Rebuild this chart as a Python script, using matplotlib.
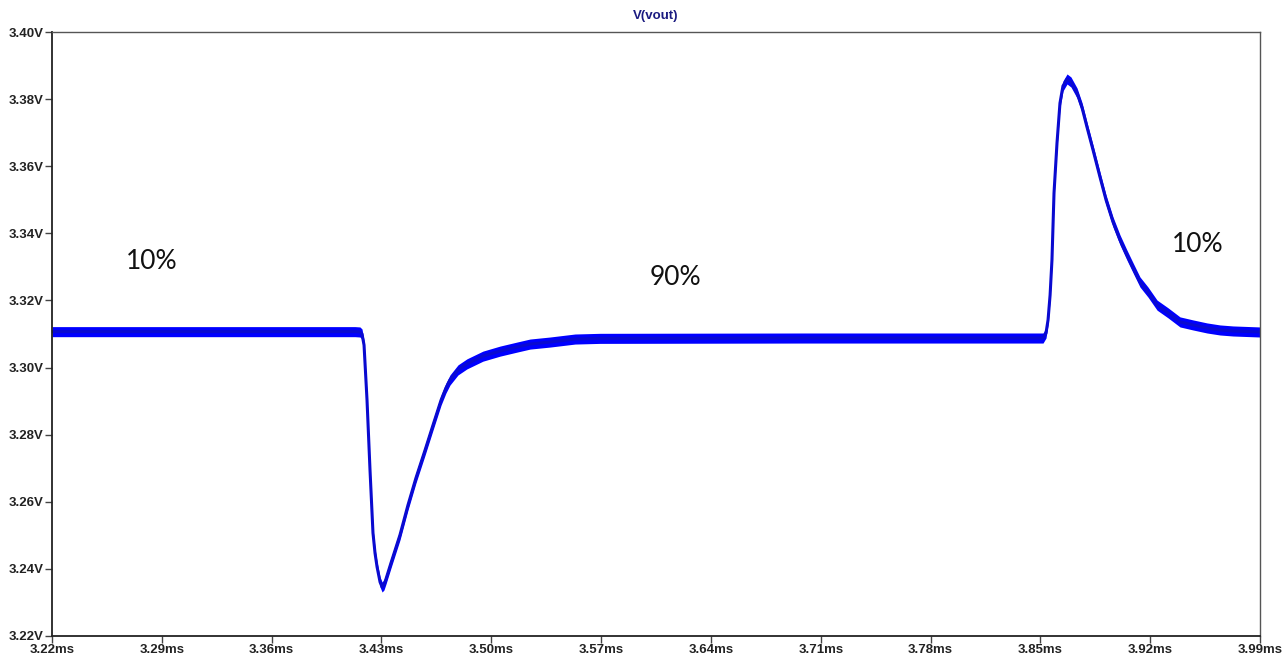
import numpy as np
import matplotlib
matplotlib.use("Agg")
import matplotlib.pyplot as plt

# V(vout) trace (time in ms, voltage in V)
t_ms = [3.2200, 3.4131, 3.4163, 3.4176, 3.4189, 3.4208, 3.4227, 3.4246, 3.4259,
        3.4272, 3.4291, 3.4304, 3.4316, 3.4329, 3.4361, 3.4418, 3.4469, 3.4520,
        3.4578, 3.4629, 3.4680, 3.4711, 3.4737, 3.4788, 3.4845, 3.4947, 3.5056,
        3.5164, 3.5247, 3.5374, 3.5534, 3.5693, 3.7000, 3.8517, 3.8536, 3.8549,
        3.8562, 3.8574, 3.8587, 3.8606, 3.8625, 3.8644, 3.8670, 3.8695, 3.8734,
        3.8766, 3.8797, 3.8836, 3.8880, 3.8919, 3.8963, 3.9008, 3.9052, 3.9091,
        3.9135, 3.9186, 3.9244, 3.9314, 3.9390, 3.9473, 3.9562, 3.9645, 3.9728,
        3.9900]
v_out = [3.3107, 3.3107, 3.3106, 3.3100, 3.3067, 3.2903, 3.2695, 3.2507, 3.2447,
         3.2406, 3.2361, 3.2346, 3.2352, 3.2370, 3.2418, 3.2501, 3.2590, 3.2671,
         3.2754, 3.2829, 3.2903, 3.2939, 3.2963, 3.2993, 3.3011, 3.3034, 3.3049,
         3.3061, 3.3070, 3.3076, 3.3085, 3.3087, 3.3088, 3.3088, 3.3103, 3.3142,
         3.3216, 3.3321, 3.3520, 3.3669, 3.3788, 3.3839, 3.3860, 3.3851, 3.3818,
         3.3774, 3.3717, 3.3648, 3.3568, 3.3499, 3.3434, 3.3380, 3.3335, 3.3297,
         3.3255, 3.3225, 3.3186, 3.3163, 3.3136, 3.3127, 3.3118, 3.3112, 3.3109,
         3.3106]
ripple = 0.0015  # half width of the switching ripple band

x_ticks = [3.22, 3.29, 3.36, 3.43, 3.50, 3.57, 3.64, 3.71, 3.78, 3.85, 3.92, 3.99]
y_ticks = [3.22, 3.24, 3.26, 3.28, 3.30, 3.32, 3.34, 3.36, 3.38, 3.40]

# duty cycle labels
labels = ["10%", "90%", "10%"]
label_t = [3.2837, 3.6171, 3.9505]
label_v = [3.3315, 3.3267, 3.3368]

tick_font = ["Liberation Sans Narrow", "Liberation Sans", "DejaVu Sans"]

fig = plt.figure(figsize=(12.82, 6.58), dpi=100)
ax = fig.add_axes([52 / 1282, 1 - 636 / 658, 1208 / 1282, 604 / 658])

t = np.array(t_ms)
v = np.array(v_out)
ax.fill_between(t, v - ripple, v + ripple, color="#0000ff", lw=0)
ax.plot(t, v, color="#0a0ad0", lw=2.2, solid_joinstyle="round")

ax.set_xlim(3.22, 3.99)
ax.set_ylim(3.22, 3.40)
ax.set_xticks(x_ticks)
ax.set_yticks(y_ticks)
ax.set_xticklabels([f"{x:.2f}ms" for x in x_ticks], family=tick_font,
                   fontsize=9.5, fontweight="bold", color="#222222")
ax.set_yticklabels([f"{y:.2f}V" for y in y_ticks], family=tick_font,
                   fontsize=9.5, fontweight="bold", color="#222222")
ax.tick_params(axis="both", direction="out", length=5, width=1, color="#444444", pad=1)

for side in ["left", "bottom"]:
    ax.spines[side].set_color("#222222")
    ax.spines[side].set_linewidth(1.3)
for side in ["top", "right"]:
    ax.spines[side].set_color("#555555")
    ax.spines[side].set_linewidth(1.0)

ax.set_title("V(vout)", family=tick_font, fontsize=9.5, fontweight="bold",
             color="#1a1a80", pad=9)

for txt, tx, vy in zip(labels, label_t, label_v):
    ax.text(tx, vy, txt, family=["Lato", "DejaVu Sans"], fontsize=19,
            color="#111111", ha="center", va="center")

fig.savefig("out.png", dpi=100, facecolor="white")
